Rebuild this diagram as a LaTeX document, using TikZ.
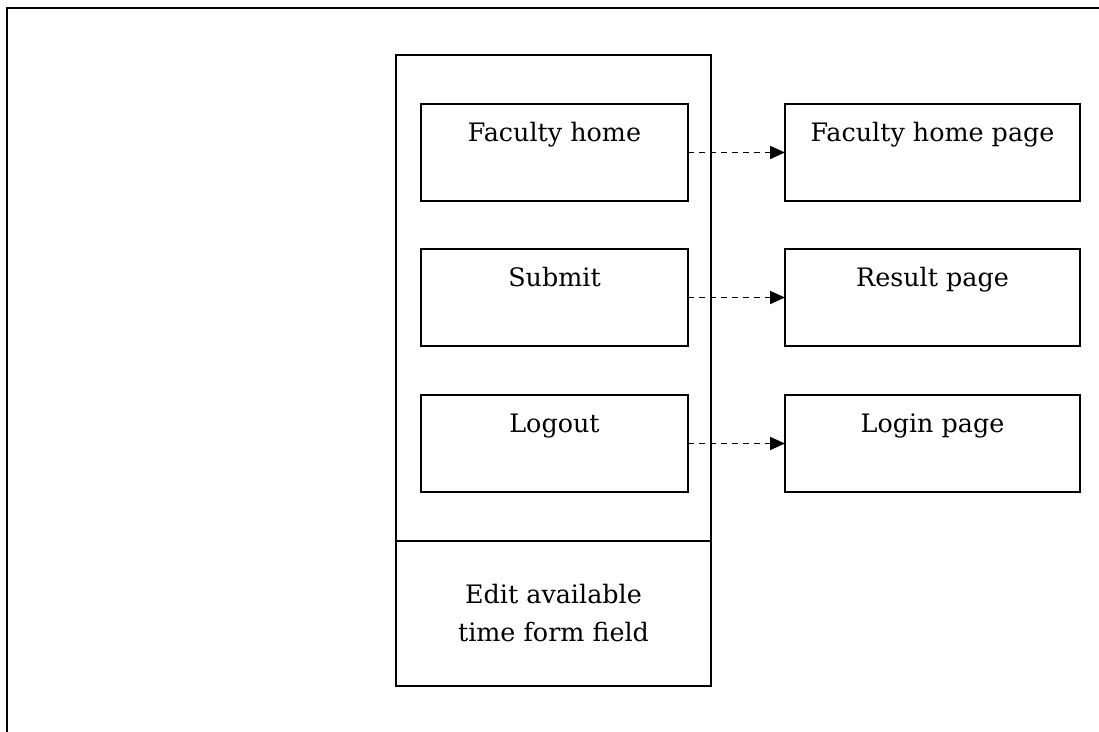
\documentclass[tikz,border=0pt]{standalone}
\usepackage{fontspec}
\setmainfont{DejaVu Serif}
\usepackage{tikz}
\usetikzlibrary{arrows.meta, positioning}

\begin{document}
\begin{tikzpicture}
[link/.style={line width=0.9pt, dash pattern=on 3pt off 2.5pt, arrows={-Triangle[length=7.5pt,width=6.5pt]}},
   frameG/.style={shape=rectangle, draw, line width=1pt, outer sep=0pt, inner sep=0pt,
     minimum width=157.5pt, font=\fontsize{12.7}{19}\selectfont},
   btnG/.style={shape=rectangle, draw, line width=1pt, outer sep=0pt, inner xsep=0pt, inner ysep=0pt,
     minimum width=133.5pt, text height=19pt, text depth=29.5pt, font=\fontsize{12.7}{19}\selectfont},
   pageG/.style={btnG, minimum width=147.5pt}]
\useasboundingbox (0,0) rectangle (549.5pt,-366pt);
%% page border
\draw [line width=1pt] (549.5pt,-4pt) -- (3.5pt,-4pt) -- (3.5pt,-366pt);
\node[frameG, anchor=north west, minimum height=243pt] (panel) at (198pt,-27.5pt) {};
\node[frameG, minimum height=72.5pt, align=center] (form) [below=0pt of panel] {Edit available \\ time form field};
\node[btnG] (fachome) [below right=24.5pt and 12.5pt of panel.north west] {Faculty home};
\node[btnG] (submit) [below=24pt of fachome] {Submit};
\node[btnG] (logout) [below=24.5pt of submit] {Logout};
\node[pageG] (fhpage) [right=48.5pt of fachome] {Faculty home page};
\node[pageG] (result) [right=48.5pt of submit] {Result page};
\node[pageG] (login) [right=48.5pt of logout] {Login page};
\draw [link] (fachome) -- (fhpage);
\draw [link] (submit) -- (result);
\draw [link] (logout) -- (login);
\end{tikzpicture}
\end{document}
